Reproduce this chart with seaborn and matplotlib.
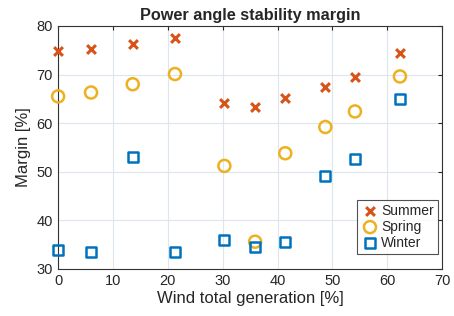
import matplotlib
matplotlib.use("Agg")
import matplotlib.pyplot as plt
import seaborn as sns
import pandas as pd

wind = [0, 6.0, 13.6, 21.3, 30.3, 35.9, 41.4, 48.7, 54.1, 62.3]
summer = [74.9, 75.2, 76.2, 77.6, 64.2, 63.3, 65.1, 67.4, 69.4, 74.5]
spring = [65.5, 66.3, 68.0, 70.1, 51.2, 35.6, 53.8, 59.2, 62.4, 69.6]
winter = [33.9, 33.4, 53.1, 33.4, 36.0, 34.5, 35.6, 49.2, 52.6, 65.0]

seasons = ["Summer", "Spring", "Winter"]
colors = {"Summer": "#D95319", "Spring": "#EDB120", "Winter": "#0072BD"}

df = pd.DataFrame({
    "wind": wind * 3,
    "margin": summer + spring + winter,
    "season": ["Summer"] * len(wind) + ["Spring"] * len(wind) + ["Winter"] * len(wind),
})

sns.set_style("white")
plt.rcParams["font.family"] = ["Liberation Sans", "DejaVu Sans"]

fig = plt.figure(figsize=(4.54, 3.16), dpi=100)
ax = fig.add_axes([0.128, 0.149, 0.846, 0.769])

d = df[df.season == "Summer"]
sns.scatterplot(data=d, x="wind", y="margin", marker="x", color=colors["Summer"],
                s=40, linewidth=2.2, ax=ax, label="Summer", zorder=3, clip_on=False)
d = df[df.season == "Spring"]
sns.scatterplot(data=d, x="wind", y="margin", marker="o", facecolors="none",
                edgecolor=colors["Spring"], s=75, linewidth=1.8, ax=ax, label="Spring",
                zorder=3, clip_on=False)
d = df[df.season == "Winter"]
sns.scatterplot(data=d, x="wind", y="margin", marker="s", facecolors="none",
                edgecolor=colors["Winter"], s=50, linewidth=1.8, ax=ax, label="Winter",
                zorder=3, clip_on=False)

ax.set_xlim(0, 70)
ax.set_ylim(30, 80)
ax.set_xticks(range(0, 71, 10))
ax.set_yticks(range(30, 81, 10))
ax.grid(True, color="#dde6ee", linewidth=0.8)
ax.set_axisbelow(True)
for s in ax.spines.values():
    s.set_color("#333333")
    s.set_linewidth(0.8)
ax.tick_params(direction="in", length=3, labelsize=10.5, colors="#262626",
               top=True, right=True, pad=4)
ax.set_xlabel("Wind total generation [%]", fontsize=12, color="#262626", labelpad=2)
ax.set_ylabel("Margin [%]", fontsize=12, color="#262626", labelpad=4)
ax.set_title("Power angle stability margin", fontsize=11.7, fontweight="bold", pad=4)

leg = ax.legend(loc="lower right", fontsize=10, frameon=True, fancybox=False,
                edgecolor="#262626", borderpad=0.3, handletextpad=0.2,
                labelspacing=0.15, handlelength=1.2,
                bbox_to_anchor=(438 / 454, 1 - 254 / 316), bbox_transform=fig.transFigure,
                borderaxespad=0)
leg.get_frame().set_linewidth(0.8)

fig.savefig("out.png", dpi=100)
